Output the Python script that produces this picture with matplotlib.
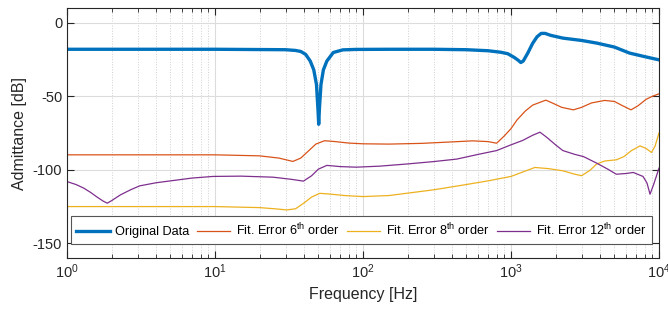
import matplotlib.pyplot as plt
from matplotlib.ticker import LogLocator, NullFormatter

plt.rcParams['font.family'] = ['Liberation Sans', 'DejaVu Sans']
plt.rcParams['mathtext.fontset'] = 'custom'
plt.rcParams['mathtext.rm'] = 'Liberation Sans'
plt.rcParams['mathtext.it'] = 'Liberation Sans:italic'
plt.rcParams['axes.unicode_minus'] = False

# Original data (measured admittance)
f_orig = [1, 10, 30, 35, 38, 41, 44, 46.5, 48.5, 49.7, 50.2, 50.8, 52, 54, 57, 63,
          73, 90, 150, 300, 500, 700, 850, 950, 1050, 1120, 1165, 1210, 1300, 1400,
          1500, 1600, 1700, 1850, 2240, 3000, 3800, 5000, 6330, 8000, 10000]
db_orig = [-18, -18, -18.3, -18.8, -19.5, -21.5, -26, -32, -42, -60, -69, -58, -42,
           -32, -26, -20.2, -18.4, -18.1, -18, -18, -18.3, -19, -20, -21, -23.5,
           -25.5, -27, -26, -20.5, -14, -9.5, -7.2, -7.2, -8.5, -10.4, -12, -13.8,
           -16.5, -20.6, -23, -25.2]

# Fit errors
f_e6 = [1, 10, 20, 27, 33.6, 38, 43, 48, 55, 65, 80, 100, 150, 250, 400, 550, 700,
        800, 900, 1000, 1100, 1250, 1400, 1550, 1720, 1900, 2200, 2640, 3000, 3500,
        4300, 5000, 5700, 6470, 7200, 8200, 9000, 10000]
db_e6 = [-89.8, -89.8, -90.5, -92, -94.3, -92, -87, -82.5, -80.2, -80.8, -81.8,
         -82.3, -82.5, -82, -81, -80.3, -80.8, -81.9, -77, -72, -66, -60, -56, -54.3,
         -52.6, -54.5, -57.5, -59.2, -57.5, -54.5, -52.8, -53.5, -56.5, -59.2, -56.5,
         -52, -50, -48.3]

f_e8 = [1, 10, 20, 26, 30.5, 35, 40, 45, 51, 60, 75, 100, 150, 300, 500, 700, 1000,
        1200, 1450, 1800, 2250, 2700, 3000, 3400, 3800, 4300, 5150, 5800, 6500, 7450,
        8200, 8900, 9400, 10000]
db_e8 = [-125, -125, -125.7, -126.6, -127.3, -126.5, -122.5, -118.5, -116, -116.5,
         -117.5, -118.2, -117.5, -113.6, -110, -107.5, -104.5, -101.5, -98.4, -99.2,
         -100.7, -103, -104, -100.5, -96, -94, -93.2, -91, -87, -83.7, -85.5, -88.2,
         -84, -75]

f_e12 = [1, 1.15, 1.3, 1.45, 1.6, 1.75, 1.87, 2.0, 2.3, 2.7, 3.1, 4, 5.2, 7, 9.7, 15,
         24.6, 33, 39.6, 45, 50, 57, 70, 90, 130, 200, 300, 430, 600, 800, 1000, 1200,
         1400, 1570, 1750, 2000, 2240, 2700, 3090, 3800, 4500, 5150, 6000, 6700, 7800,
         8300, 8700, 9200, 10000]
db_e12 = [-108, -110, -112.5, -115.5, -118.6, -121.2, -122.7, -121, -117, -113.5,
          -110.9, -108.8, -107.3, -105.6, -104.5, -104.3, -105, -106.5, -107.7, -104,
          -99.5, -97, -97.8, -98.2, -97.5, -96, -94.4, -92.7, -89.5, -86.9, -83, -80,
          -76.5, -74.4, -78, -83, -86.9, -89.5, -91, -95.5, -99.5, -103, -102.5,
          -101.8, -104.5, -109, -116.6, -110, -98.9]

fig = plt.figure(figsize=(6.68, 3.12), dpi=100)
ax = fig.add_axes([0.1003, 0.173, 0.8862, 0.801])

ax.semilogx(f_orig, db_orig, color='#0072BD', lw=2.4, label='Original Data')
ax.semilogx(f_e6, db_e6, color='#D95319', lw=0.9, label='Fit. Error 6$^{\\mathrm{th}}$ order')
ax.semilogx(f_e8, db_e8, color='#EDB120', lw=0.9, label='Fit. Error 8$^{\\mathrm{th}}$ order')
ax.semilogx(f_e12, db_e12, color='#7E2F8E', lw=0.9, label='Fit. Error 12$^{\\mathrm{th}}$ order')

ax.set_xlim(1, 1e4)
ax.set_ylim(-160, 10)
ax.set_yticks([-150, -100, -50, 0])
ax.xaxis.set_minor_locator(LogLocator(base=10, subs=range(2, 10)))
ax.xaxis.set_minor_formatter(NullFormatter())

ax.grid(True, which='major', color='#dcdcdc', lw=0.8)
ax.grid(True, which='minor', axis='x', color='#d0d0d0', lw=0.7, ls=':')
ax.set_axisbelow(True)

ax.tick_params(which='both', direction='in', top=True, right=True,
               colors='#262626', labelsize=10.5)
ax.tick_params(which='major', length=5, width=0.8)
ax.tick_params(which='minor', length=3, width=0.6)
for s in ax.spines.values():
    s.set_color('#262626')
    s.set_linewidth(0.8)

ax.set_xlabel('Frequency [Hz]', fontsize=11.5, color='#262626')
ax.set_ylabel('Admittance [dB]', fontsize=11.5, color='#262626')

leg = ax.legend(loc='lower left', bbox_to_anchor=(0.006, 0.056), ncol=4, fontsize=9.2,
                frameon=True, fancybox=False, framealpha=1, edgecolor='#555555',
                handlelength=2.6, columnspacing=0.6, handletextpad=0.45,
                borderpad=0.45, borderaxespad=0)
leg.get_frame().set_linewidth(0.8)

fig.savefig('out.png', dpi=100)
